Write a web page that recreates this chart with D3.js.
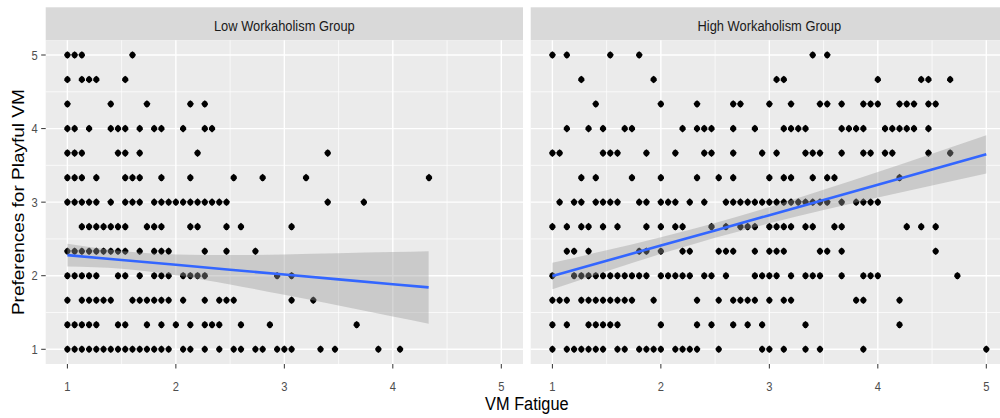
<!DOCTYPE html>
<html>
<head>
<meta charset="utf-8">
<script src="https://cdn.jsdelivr.net/npm/d3@7"></script>
<style>
  html, body { margin: 0; padding: 0; background: #fff; }
  text { font-family: "Liberation Sans", Arial, sans-serif; }
</style>
</head>
<body>
<svg id="chart" width="1000" height="418"></svg>
<script>
const groups = ['Low Workaholism Group', 'High Workaholism Group'];
const xTicks = [1, 2, 3, 4, 5];
const yTicks = [1, 2, 3, 4, 5];

// playful VM: sum of 3 items, one row per value (top row first)
const playfulSums = [15, 14, 13, 12, 11, 10, 9, 8, 7, 6, 5, 4, 3];

// VM fatigue: sum of 15 items, for each playful row above
const lowFatigue = [
    [15, 16, 17, 24],
    [15, 17, 18, 19, 23],
    [15, 21, 26, 32, 34],
    [15, 16, 18, 21, 22, 23, 25, 27, 28, 31, 34, 35],
    [15, 16, 17, 22, 23, 25, 33, 51],
    [15, 16, 17, 19, 23, 24, 25, 28, 32, 38, 42, 48, 65],
    [15, 16, 17, 18, 19, 21, 23, 24, 25, 27, 28, 29, 30, 31, 32, 33, 34, 35, 36, 37, 51, 56],
    [17, 18, 19, 20, 21, 22, 23, 26, 27, 28, 32, 33, 37, 39, 46],
    [15, 16, 17, 18, 19, 20, 21, 22, 23, 25, 27, 28, 29, 34, 37, 41],
    [15, 16, 17, 18, 19, 22, 23, 25, 27, 28, 29, 31, 32, 33, 34, 44, 46],
    [15, 17, 18, 19, 20, 21, 24, 25, 26, 27, 28, 29, 31, 34, 36, 37, 38, 46, 49],
    [15, 16, 17, 18, 19, 22, 23, 26, 28, 30, 32, 34, 35, 36, 39, 43, 55],
    [15, 16, 17, 18, 19, 20, 21, 22, 23, 24, 25, 26, 27, 28, 29, 31, 32, 34, 36, 38, 39, 41, 42, 44, 45, 46, 50, 52, 58, 61]
];
const highFatigue = [
    [15, 17, 23, 27, 51, 53],
    [19, 29, 46, 47, 60, 66, 67, 70],
    [21, 30, 35, 40, 41, 45, 48, 52, 53, 55, 58, 59, 60, 63, 64, 65, 67, 68],
    [17, 20, 22, 25, 26, 33, 35, 36, 37, 40, 43, 47, 48, 49, 50, 55, 56, 57, 58, 61, 62, 63, 64, 65, 67],
    [15, 16, 22, 23, 24, 28, 32, 36, 37, 40, 44, 46, 50, 51, 52, 55, 58, 59, 61, 62, 67, 70],
    [19, 21, 26, 30, 35, 38, 40, 45, 47, 48, 51, 53, 54, 63],
    [16, 18, 19, 21, 22, 23, 24, 27, 28, 30, 31, 32, 34, 36, 39, 40, 41, 42, 43, 44, 45, 46, 47, 48, 49, 50, 51, 52, 53, 55, 57, 58, 59, 60],
    [15, 17, 19, 20, 22, 24, 28, 30, 32, 33, 37, 39, 41, 42, 43, 45, 46, 47, 48, 50, 51, 54, 55, 64, 66, 68],
    [17, 18, 20, 27, 28, 30, 33, 34, 38, 39, 40, 43, 45, 46, 47, 52, 53, 55, 68],
    [15, 18, 19, 20, 21, 22, 23, 24, 25, 26, 27, 28, 30, 31, 32, 33, 34, 36, 37, 39, 43, 44, 45, 46, 48, 50, 51, 52, 55, 58, 59, 60, 71],
    [15, 16, 17, 19, 20, 21, 22, 23, 24, 25, 26, 29, 35, 38, 40, 41, 42, 43, 45, 47, 48, 57, 58, 63],
    [15, 17, 20, 21, 22, 23, 24, 30, 35, 37, 40, 42, 44, 50, 63],
    [15, 17, 18, 19, 20, 21, 22, 24, 25, 27, 28, 29, 30, 32, 33, 34, 35, 38, 44, 45, 47, 50, 52, 58, 75]
];

// lm smooth (many points overlap, so it is not refit here)
const lowSmoothX  = [1, 1.5, 2, 2.5, 3, 3.5, 4, 4.33];
const lowFit      = [2.28, 2.214, 2.148, 2.082, 2.016, 1.95, 1.884, 1.841];
const lowLo       = [2.125, 2.094, 2.006, 1.88, 1.74, 1.594, 1.446, 1.348];
const lowHi       = [2.435, 2.335, 2.29, 2.28, 2.29, 2.306, 2.322, 2.334];
const highSmoothX = [1, 1.5, 2, 2.5, 3, 3.5, 4, 4.5, 5];
const highFit     = [1.996, 2.203, 2.41, 2.616, 2.823, 3.03, 3.237, 3.443, 3.65];
const highLo      = [1.816, 2.061, 2.297, 2.516, 2.713, 2.893, 3.063, 3.227, 3.39];
const highHi      = [2.176, 2.345, 2.523, 2.716, 2.933, 3.167, 3.411, 3.659, 3.91];

const FATIGUE_ITEMS = 15, PLAYFUL_ITEMS = 3;
const SX = 0.86;   // the picture is squeezed sideways, text too

function toPoints(rows) {
    const pts = [];
    rows.forEach((row, i) => row.forEach(f =>
        pts.push([f / FATIGUE_ITEMS, playfulSums[i] / PLAYFUL_ITEMS])));
    return pts;
}
function toSmooth(xs, fit, lo, hi) {
    return xs.map((x, i) => ({ x, y: fit[i], lo: lo[i], hi: hi[i] }));
}
const data = [toPoints(lowFatigue), toPoints(highFatigue)];
const smooths = [
    toSmooth(lowSmoothX, lowFit, lowLo, lowHi),
    toSmooth(highSmoothX, highFit, highLo, highHi)
];

const svg = d3.select('#chart');
const panels = [[45.7, 523], [530.7, 1008]],
    panelTop = 40.3, panelBottom = 364, stripTop = 7.3;

const y = d3.scaleLinear().domain([0.8, 5.2]).range([panelBottom, panelTop]);

// the dots come out as little upright diamonds in the original
const dot = 'M0,-3.8L1.8,-2.5L3.1,-0.8L3.1,0.8L1.8,2.5L0,3.8L-1.8,2.5L-3.1,0.8L-3.1,-0.8L-1.8,-2.5Z';

function label(sel, x, yy, s, size, anchor, fill) {
    return sel.append('text')
        .attr('transform', `translate(${x},${yy}) scale(${SX},1)`)
        .attr('text-anchor', anchor)
        .attr('font-size', size)
        .attr('fill', fill)
        .text(s);
}

groups.forEach((name, gi) => {
    const [x0, x1] = panels[gi];
    const x = d3.scaleLinear().domain([0.8, 5.2]).range([x0, x1]);
    const g = svg.append('g');

    // strip
    g.append('rect')
        .attr('x', x0).attr('y', stripTop)
        .attr('width', x1 - x0).attr('height', panelTop - stripTop)
        .attr('fill', '#D9D9D9');
    label(g, (x0 + x1) / 2, 30.5, name, 15, 'middle', '#1A1A1A');

    // panel + grid
    g.append('rect')
        .attr('x', x0).attr('y', panelTop)
        .attr('width', x1 - x0).attr('height', panelBottom - panelTop)
        .attr('fill', '#EBEBEB');
    const minor = [1.5, 2.5, 3.5, 4.5];
    g.selectAll('.vminor').data(minor).enter().append('line')
        .attr('x1', d => x(d)).attr('x2', d => x(d))
        .attr('y1', panelTop).attr('y2', panelBottom)
        .attr('stroke', '#fff').attr('stroke-width', 0.7);
    g.selectAll('.hminor').data(minor).enter().append('line')
        .attr('x1', x0).attr('x2', x1)
        .attr('y1', d => y(d)).attr('y2', d => y(d))
        .attr('stroke', '#fff').attr('stroke-width', 0.7);
    g.selectAll('.vmajor').data(xTicks).enter().append('line')
        .attr('x1', d => x(d)).attr('x2', d => x(d))
        .attr('y1', panelTop).attr('y2', panelBottom)
        .attr('stroke', '#fff').attr('stroke-width', 1.4);
    g.selectAll('.hmajor').data(yTicks).enter().append('line')
        .attr('x1', x0).attr('x2', x1)
        .attr('y1', d => y(d)).attr('y2', d => y(d))
        .attr('stroke', '#fff').attr('stroke-width', 1.4);

    // points
    g.selectAll('.pt').data(data[gi]).enter().append('path')
        .attr('transform', d => `translate(${x(d[0])},${y(d[1])})`)
        .attr('d', dot)
        .attr('fill', '#000');

    // smooth
    const fit = smooths[gi];
    g.append('path')
        .attr('d', d3.area().curve(d3.curveMonotoneX)
            .x(d => x(d.x)).y0(d => y(d.lo)).y1(d => y(d.hi))(fit))
        .attr('fill', '#999999').attr('fill-opacity', 0.4);
    g.append('path')
        .attr('d', d3.line().x(d => x(d.x)).y(d => y(d.y))(fit))
        .attr('fill', 'none').attr('stroke', '#3366FF').attr('stroke-width', 2.6);

    // x axis
    g.selectAll('.xt').data(xTicks).enter().append('line')
        .attr('x1', d => x(d)).attr('x2', d => x(d))
        .attr('y1', panelBottom).attr('y2', panelBottom + 4.5)
        .attr('stroke', '#333333').attr('stroke-width', 1);
    xTicks.forEach(d => label(g, x(d), 391, d, 13, 'middle', '#4D4D4D'));

    if (gi === 0) {
        g.selectAll('.yt').data(yTicks).enter().append('line')
            .attr('x1', x0 - 4.5).attr('x2', x0)
            .attr('y1', d => y(d)).attr('y2', d => y(d))
            .attr('stroke', '#333333').attr('stroke-width', 1);
        yTicks.forEach(d => label(g, x0 - 8, y(d) + 4.5, d, 13, 'end', '#4D4D4D'));
    }
});

// axis titles
label(svg, (panels[0][0] + panels[1][1]) / 2, 410, 'VM Fatigue', 19, 'middle', '#000');
svg.append('text')
    .attr('transform', `translate(24,${(panelTop + panelBottom) / 2}) scale(${SX},1) rotate(-90)`)
    .attr('text-anchor', 'middle')
    .attr('font-size', 19)
    .text('Preferences for Playful VM');
</script>
</body>
</html>
